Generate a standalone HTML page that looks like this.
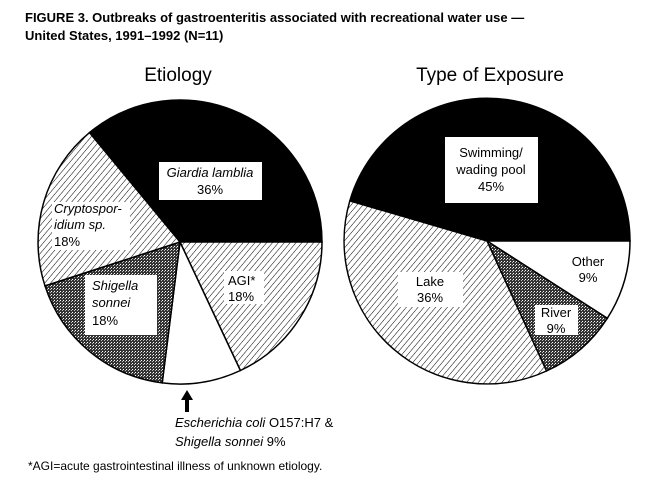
<!DOCTYPE html>
<html><head><meta charset="utf-8"><style>
body{margin:0;background:#fff;width:660px;height:486px;overflow:hidden}
svg{display:block}
text{font-family:"Liberation Sans",Arial,sans-serif;fill:#000}
</style></head><body>
<svg width="660" height="486" viewBox="0 0 660 486">
<defs>
<pattern id="h" width="4.5" height="4.5" patternUnits="userSpaceOnUse" patternTransform="rotate(40)">
<rect width="5" height="5" fill="#fff"/><line x1="0" y1="0" x2="0" y2="5" stroke="#000" stroke-width="1"/></pattern>
<pattern id="d" width="3" height="3" patternUnits="userSpaceOnUse">
<rect width="3" height="3" fill="#333"/><rect width="1" height="1" fill="#fff"/><rect x="2" y="1" width="1" height="1" fill="#bbb"/></pattern>
</defs>
<text x="25" y="22" font-size="13" font-weight="bold">FIGURE 3. Outbreaks of gastroenteritis associated with recreational water use —</text>
<text x="25" y="40" font-size="13" font-weight="bold">United States, 1991–1992 (N=11)</text>
<text x="178" y="81" font-size="19" text-anchor="middle">Etiology</text>
<text x="490" y="81" font-size="19" text-anchor="middle">Type of Exposure</text>

<g stroke="#000" stroke-width="1.5">
<path d="M180,242 L89.5,132.6 A142,142 0 0 1 322,242 Z" fill="#000"/>
<path d="M180,242 L322,242 A142,142 0 0 1 240.4,370.5 Z" fill="url(#h)"/>
<path d="M180,242 L240.4,370.5 A142,142 0 0 1 162.2,382.9 Z" fill="#fff"/>
<path d="M180,242 L162.2,382.9 A142,142 0 0 1 45,285.9 Z" fill="url(#d)"/>
<path d="M180,242 L45,285.9 A142,142 0 0 1 89.5,132.6 Z" fill="url(#h)"/>
</g>
<rect x="159" y="162" width="103" height="38" fill="#fff"/>
<text x="210" y="177" font-size="13" font-style="italic" text-anchor="middle">Giardia lamblia</text>
<text x="210" y="194" font-size="13" text-anchor="middle">36%</text>
<rect x="52" y="202" width="78" height="48" fill="#fff"/>
<text x="54" y="213" font-size="13" font-style="italic">Cryptospor-</text>
<text x="54" y="229" font-size="13" font-style="italic">idium sp.</text>
<text x="54" y="246" font-size="13">18%</text>
<rect x="85" y="275" width="72" height="60" fill="#fff"/>
<text x="92" y="290" font-size="13" font-style="italic">Shigella</text>
<text x="92" y="307" font-size="13" font-style="italic">sonnei</text>
<text x="92" y="325" font-size="13">18%</text>
<rect x="224" y="271" width="40" height="33" fill="#fff"/>
<text x="228" y="285" font-size="13">AGI*</text>
<text x="228" y="301" font-size="13">18%</text>
<path d="M187,412 L187,398" stroke="#000" stroke-width="4"/>
<path d="M181,400 L187,390 L193,400 Z" fill="#000"/>
<text x="175" y="427" font-size="13"><tspan font-style="italic">Escherichia coli</tspan> O157:H7 &amp;</text>
<text x="175" y="446" font-size="13"><tspan font-style="italic">Shigella sonnei</tspan>  9%</text>
<text x="28" y="470" font-size="12">*AGI=acute gastrointestinal illness of unknown etiology.</text>

<g stroke="#000" stroke-width="1.5">
<path d="M487,241 L349.8,200.9 A143,143 0 0 1 630,241 Z" fill="#000"/>
<path d="M487,241 L630,241 A143,143 0 0 1 607.3,318.3 Z" fill="#fff"/>
<path d="M487,241 L607.3,318.3 A143,143 0 0 1 546.5,371 Z" fill="url(#d)"/>
<path d="M487,241 L546.5,371 A143,143 0 0 1 349.8,200.9 Z" fill="url(#h)"/>
</g>
<rect x="445" y="137" width="93" height="66" fill="#fff"/>
<text x="491" y="157" font-size="13" text-anchor="middle">Swimming/</text>
<text x="491" y="174" font-size="13" text-anchor="middle">wading pool</text>
<text x="491" y="191" font-size="13" text-anchor="middle">45%</text>
<rect x="398" y="272" width="65" height="35" fill="#fff"/>
<text x="430" y="286" font-size="13" text-anchor="middle">Lake</text>
<text x="430" y="302" font-size="13" text-anchor="middle">36%</text>
<text x="588" y="266" font-size="13" text-anchor="middle">Other</text>
<text x="588" y="282" font-size="13" text-anchor="middle">9%</text>
<rect x="535" y="305" width="43" height="30" fill="#fff"/>
<text x="556" y="317" font-size="13" text-anchor="middle">River</text>
<text x="556" y="333" font-size="13" text-anchor="middle">9%</text>
</svg>
</body></html>
